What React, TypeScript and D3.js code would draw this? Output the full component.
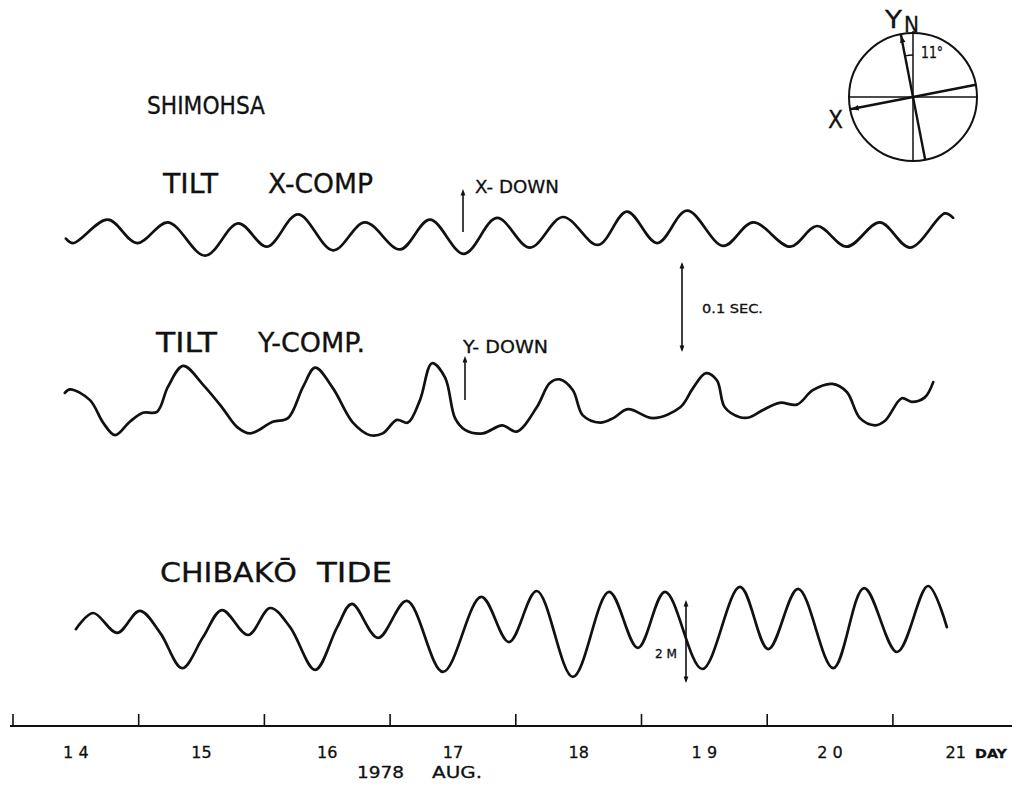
import * as d3 from "d3"
import React from "react"

// time axis: hours since 1978 Aug 14 00:00
const days = [14, 15, 16, 17, 18, 19, 20, 21]
const dayLabels = ["1 4", "15", "16", "17", "18", "1 9", "2 0", "21"]

// tilt X component (arcsec, relative)
const tiltXHours = [10.1, 11.5, 18.1, 23.7, 29.6, 36.7, 43.0, 48.5, 54.4, 61.1, 67.2, 73.9, 79.6, 86.1, 92.4, 98.7,
    105.0, 111.7, 117.2, 123.0, 128.7, 135.6, 141.3, 148.4, 153.5, 159.2, 165.5, 171.3, 177.9, 179.5]
const tiltXValues = [-0.004, -0.009, 0.017, -0.009, 0.014, -0.023, 0.013, -0.013, 0.023, -0.017, 0.014, -0.016, 0.017,
    -0.021, 0.019, -0.014, 0.020, -0.011, 0.026, -0.009, 0.027, -0.012, 0.014, -0.013, 0.010, -0.013, 0.014, -0.014,
    0.024, 0.019]

// tilt Y component (arcsec, relative)
const tiltYHours = [9.9, 10.9, 14.7, 17.2, 19.5, 22.3, 24.8, 27.5, 29.6, 32.5, 36.3, 39.9, 42.8, 45.3, 49.6, 52.5,
    55.4, 57.7, 61.1, 64.9, 68.2, 70.6, 73.3, 75.4, 77.7, 80.0, 82.5, 84.4, 86.3, 89.7, 93.4, 96.2, 100.0, 102.5,
    104.4, 106.9, 108.8, 112.1, 114.6, 117.4, 122.2, 127.4, 129.8, 132.3, 134.4, 135.9, 138.8, 140.7, 143.2, 146.4,
    149.7, 152.7, 156.4, 159.2, 161.7, 164.6, 166.5, 169.7, 171.6, 174.1, 175.7]
const tiltYValues = [0.019, 0.023, 0.011, -0.014, -0.028, -0.013, -0.003, -0.002, 0.026, 0.049, 0.028, 0.003, -0.019,
    -0.026, -0.013, -0.009, 0.026, 0.047, 0.024, -0.014, -0.028, -0.026, -0.011, -0.014, 0.011, 0.052, 0.036, -0.009,
    -0.022, -0.026, -0.017, -0.024, 0.003, 0.030, 0.034, 0.022, -0.006, -0.014, -0.009, 0.001, -0.009, 0.003, 0.024,
    0.041, 0.033, 0.003, -0.008, -0.008, 0.000, 0.008, 0.006, 0.022, 0.029, 0.020, -0.009, -0.017, -0.012, 0.013,
    0.009, 0.014, 0.031]

// Chibako tide (m, relative)
const tideHours = [12.0, 15.3, 19.9, 24.2, 28.1, 32.3, 36.3, 39.9, 44.9, 49.1, 52.9, 57.7, 61.9, 64.7, 69.7, 75.2,
    82.1, 89.4, 94.7, 100.0, 106.9, 113.8, 119.3, 124.5, 131.6, 138.8, 144.2, 149.9, 156.6, 162.5, 168.8, 174.7, 178.3]
const tideValues = [0.02, 0.41, -0.07, 0.46, -0.07, -0.92, -0.17, 0.48, -0.12, 0.53, 0.07, -0.96, 0.07, 0.63, -0.19,
    0.70, -1.01, 0.80, -0.29, 0.94, -1.13, 0.92, -0.43, 0.92, -0.94, 1.04, -0.46, 0.99, -0.92, 1.01, -0.53, 1.06, 0.07]

const FONT = "'DejaVu Sans', 'Liberation Sans', sans-serif"
const INK = "#111"

const W = 1016
const H = 796

const arrowHead = (x: number, y: number, angle: number, size = 7) => {
    // triangle pointing along angle (radians, 0 = right, screen coords)
    const a1 = angle + Math.PI - 0.35
    const a2 = angle + Math.PI + 0.35
    return `${x},${y} ${x + size * Math.cos(a1)},${y + size * Math.sin(a1)} ${x + size * Math.cos(a2)},${y + size * Math.sin(a2)}`
}

const Label = ({x, y, w, size, children, weight = "normal"}:
    {x: number, y: number, w: number, size: number, children: any, weight?: string}) => (
    <text x={x} y={y} fontSize={size} fontFamily={FONT} fontWeight={weight} textLength={w}
        lengthAdjust="spacingAndGlyphs" fill={INK} stroke={INK} strokeWidth={0.3}>{children}</text>
)

const App = () => {
    const xScale = d3.scaleLinear().domain([0, 192]).range([13, 13 + 8 * 125.7])

    // tilt: 0.1 sec = 90 px
    const yTiltX = d3.scaleLinear().domain([-0.05, 0.05]).range([235 + 45, 235 - 45])
    const yTiltY = d3.scaleLinear().domain([-0.05, 0.05]).range([410 + 45, 410 - 45])
    // tide: 2 m = 83 px
    const yTide = d3.scaleLinear().domain([-1, 1]).range([630 + 41.5, 630 - 41.5])

    const mkLine = (hours: number[], values: number[], ys: d3.ScaleLinear<number, number>) =>
        d3.line<number>()
            .x((_, i) => xScale(hours[i]))
            .y((v) => ys(v))
            .curve(d3.curveCatmullRom.alpha(0.5))(values) || ""

    const axisY = 726

    // compass
    const cx = 913, cy = 97, r = 64
    const rot = (11 * Math.PI) / 180
    const yTop = [cx - r * Math.sin(rot), cy - r * Math.cos(rot)]
    const yBot = [cx + r * Math.sin(rot), cy + r * Math.cos(rot)]
    const xLeft = [cx - r * Math.cos(rot), cy + r * Math.sin(rot)]
    const xRight = [cx + r * Math.cos(rot), cy - r * Math.sin(rot)]
    const arcR = 42
    const arcPath = d3.arc()({
        innerRadius: arcR, outerRadius: arcR, startAngle: -rot, endAngle: 0,
    } as any) || ""

    // tilt scale bar (0.1 sec)
    const barX = 682
    const barTop = 262
    const barBot = barTop + (yTiltX(0) - yTiltX(0.1))
    // tide scale bar (2 m)
    const tbX = 686
    const tbTop = 600
    const tbBot = tbTop + (yTide(0) - yTide(2))

    return (
        <svg width={W} height={H} style={{position: "absolute", left: 0, top: 0, background: "#fff"}}>
            <rect x={0} y={0} width={W} height={H} fill="#fff" />

            {/* titles */}
            <Label x={147} y={114} w={118} size={24}>SHIMOHSA</Label>
            <Label x={163} y={193} w={55} size={26}>TILT</Label>
            <Label x={268} y={193} w={105} size={26}>X-COMP</Label>
            <Label x={156} y={352} w={61} size={26}>TILT</Label>
            <Label x={258} y={352} w={107} size={26}>Y-COMP.</Label>
            <Label x={160} y={582} w={137} size={26}>CHIBAKŌ</Label>
            <Label x={317} y={582} w={75} size={26}>TIDE</Label>

            {/* curves */}
            <g fill="none" stroke={INK} strokeWidth={2.7} strokeLinejoin="round" strokeLinecap="round">
                <path d={mkLine(tiltXHours, tiltXValues, yTiltX)} />
                <path d={mkLine(tiltYHours, tiltYValues, yTiltY)} />
                <path d={mkLine(tideHours, tideValues, yTide)} />
            </g>

            {/* direction arrows */}
            <g stroke={INK} strokeWidth={1.6}>
                <line x1={463} y1={232} x2={463} y2={194} />
                <line x1={465} y1={400} x2={465} y2={360} />
                <line x1={barX} y1={barTop + 2} x2={barX} y2={barBot - 2} />
                <line x1={tbX} y1={tbTop + 2} x2={tbX} y2={tbBot - 2} />
            </g>
            <g fill={INK}>
                <polygon points={arrowHead(463, 189, -Math.PI / 2, 7)} />
                <polygon points={arrowHead(465, 356, -Math.PI / 2, 7)} />
                <polygon points={arrowHead(barX, barTop, -Math.PI / 2, 7)} />
                <polygon points={arrowHead(barX, barBot, Math.PI / 2, 7)} />
                <polygon points={arrowHead(tbX, tbTop, -Math.PI / 2, 7)} />
                <polygon points={arrowHead(tbX, tbBot, Math.PI / 2, 7)} />
            </g>
            <Label x={475} y={193} w={84} size={17}>X- DOWN</Label>
            <Label x={463} y={353} w={85} size={17}>Y- DOWN</Label>
            <Label x={702} y={313} w={61} size={12}>0.1 SEC.</Label>
            <Label x={655} y={658} w={22} size={12}>2 M</Label>

            {/* compass */}
            <g fill="none" stroke={INK}>
                <circle cx={cx} cy={cy} r={r} strokeWidth={2} />
                <line x1={cx - r} y1={cy} x2={cx + r} y2={cy} strokeWidth={1.5} />
                <line x1={cx} y1={cy - r - 2} x2={cx} y2={cy + r} strokeWidth={1.5} />
                <line x1={yTop[0]} y1={yTop[1]} x2={yBot[0]} y2={yBot[1]} strokeWidth={2.4} />
                <line x1={xLeft[0]} y1={xLeft[1]} x2={xRight[0]} y2={xRight[1]} strokeWidth={2.4} />
                <path d={arcPath} transform={`translate(${cx},${cy})`} strokeWidth={1.3} />
            </g>
            <g fill={INK}>
                <polygon points={arrowHead(yTop[0] + 0.5, yTop[1] + 1, -Math.PI / 2 - rot, 8)} />
                <polygon points={arrowHead(xLeft[0] + 1, xLeft[1], Math.PI - rot, 8)} />
            </g>
            <Label x={885} y={28} w={17} size={24}>Y</Label>
            <Label x={904} y={32} w={15} size={22}>N</Label>
            <Label x={921} y={58} w={22} size={15}>11°</Label>
            <Label x={828} y={128} w={15} size={24}>X</Label>

            {/* time axis */}
            <g stroke={INK}>
                <line x1={10} y1={axisY} x2={1012} y2={axisY} strokeWidth={2} />
                {days.map(d => (
                    <line key={d} x1={xScale((d - 14) * 24)} x2={xScale((d - 14) * 24)}
                        y1={axisY - 12} y2={axisY} strokeWidth={1.6} />
                ))}
            </g>
            {days.map((d, i) => (
                <text key={d} x={xScale((d - 14) * 24 + 12)} y={758} fontSize={16} fontFamily={FONT}
                    textAnchor="middle" fill={INK} stroke={INK} strokeWidth={0.3}>{dayLabels[i]}</text>
            ))}
            <Label x={975} y={758} w={32} size={13} weight="bold">DAY</Label>
            <Label x={357} y={778} w={47} size={16}>1978</Label>
            <Label x={432} y={778} w={50} size={16}>AUG.</Label>
        </svg>
    )
}

export default App
